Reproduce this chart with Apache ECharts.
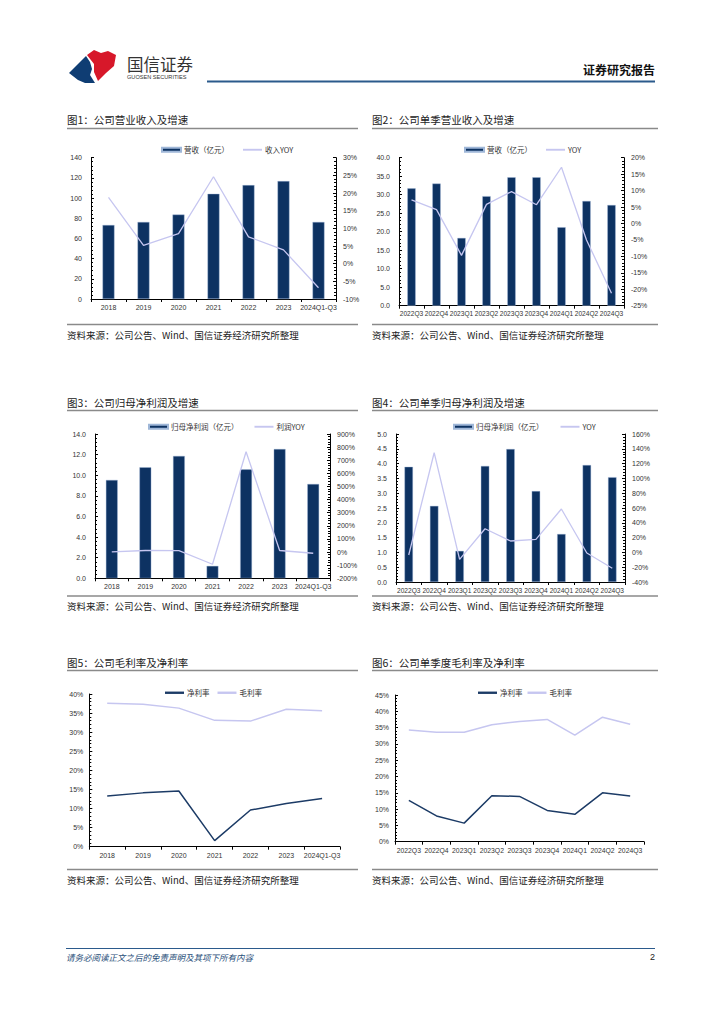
<!DOCTYPE html>
<html><head><meta charset="utf-8">
<script src="https://cdn.jsdelivr.net/npm/echarts@6/dist/echarts.min.js"></script>
<style>html,body{margin:0;padding:0;background:#fff;}#c{width:724px;height:1024px;}</style>
</head><body><div id="c"></div>
<script>
// ---------- data ----------
const yearCats = ['2018','2019','2020','2021','2022','2023','2024Q1-Q3'];
const quarterCats = ['2022Q3','2022Q4','2023Q1','2023Q2','2023Q3','2023Q4','2024Q1','2024Q2','2024Q3'];

const revenueAnnual = [73.3, 76.3, 83.6, 104.2, 112.8, 116.8, 76.3];
const revenueAnnualYoy = [18.8, 5.2, 8.5, 24.6, 7.6, 3.9, -6.8];

const revenueQuarter = [31.7, 33.0, 18.3, 29.6, 34.7, 34.7, 21.2, 28.3, 27.2];
const revenueQuarterYoy = [7.2, 4.2, -9.7, 5.8, 9.7, 5.7, 17.1, -5.0, -21.2];

const profitAnnual = [9.54, 10.77, 11.87, 1.2, 10.57, 12.54, 9.15];
const profitAnnualYoy = [1, 12, 11, -93, 765, 12, -9];

const profitQuarter = [3.89, 2.57, 1.05, 3.92, 4.49, 3.07, 1.62, 3.95, 3.54];
const profitQuarterYoy = [-3.5, 134.7, -9.4, 32.0, 15.4, 17.7, 58.6, -0.8, -21.5];

const grossMarginAnnual = [37.6, 37.3, 36.3, 33.1, 32.9, 36.0, 35.6];
const netMarginAnnual = [13.3, 14.1, 14.6, 1.6, 9.6, 11.3, 12.6];

const grossMarginQuarter = [34.3, 33.6, 33.6, 35.9, 36.9, 37.5, 32.7, 38.2, 36.0];
const netMarginQuarter = [12.7, 7.9, 5.7, 14.1, 13.9, 9.6, 8.4, 15.0, 14.0];

// ---------- style ----------
const NAVY = '#0d3262';
const LAV = '#c6c6f0';
const NETLINE = '#1c3b66';
const NUMFONT = 'Liberation Sans, Arial, Noto Sans CJK SC, sans-serif';
const CJK = 'Noto Sans CJK SC, sans-serif';
const W = 724, H = 1024;

function grid(l, r, t, b) { return { left: l, top: t, width: r - l, height: b - t, containLabel: false }; }
const grids = [
  grid(91, 336, 157.7, 299),
  grid(399, 624, 157.7, 305.7),
  grid(95, 330, 434, 578.3),
  grid(396, 625, 434, 582),
  grid(89.3, 340, 694, 846.7),
  grid(395, 644, 695, 841.7)
];

function xAxis(gi, data, fs) {
  return {
    type: 'category', gridIndex: gi, data: data, boundaryGap: true,
    axisLine: { show: true, lineStyle: { color: '#000', width: 1 } },
    axisTick: { show: true, length: 3, lineStyle: { color: '#000' } },
    axisLabel: { interval: 0, fontSize: fs, margin: 5, color: '#333', fontFamily: NUMFONT, hideOverlap: false },
    splitLine: { show: false }
  };
}
function yAxis(gi, pos, min, max, interval, fmt, margin) {
  return {
    type: 'value', gridIndex: gi, position: pos, min: min, max: max, interval: interval,
    axisLine: { show: true, lineStyle: { color: '#000', width: 1 } },
    axisTick: { show: true, inside: true, length: 3, lineStyle: { color: '#000' } },
    minorTick: { show: true, splitNumber: 5, length: 2, lineStyle: { color: '#000' } },
    axisLabel: { fontSize: 7, color: '#333', margin: margin, fontFamily: NUMFONT, formatter: fmt },
    splitLine: { show: false }
  };
}
const pct = v => v + '%';
const one = v => v.toFixed(1);

const xAxes = [
  xAxis(0, yearCats, 7), xAxis(1, quarterCats, 6.6), xAxis(2, yearCats, 7),
  xAxis(3, quarterCats, 6.6), xAxis(4, yearCats, 7), xAxis(5, quarterCats, 6.8)
];
const yAxes = [
  yAxis(0, 'left', 0, 140, 20, v => v, 9),        //0
  yAxis(0, 'right', -10, 30, 5, pct, 7),          //1
  yAxis(1, 'left', 0, 40, 5, one, 9),             //2
  yAxis(1, 'right', -25, 20, 5, pct, 7),          //3
  yAxis(2, 'left', 0, 14, 2, one, 9),             //4
  yAxis(2, 'right', -200, 900, 100, pct, 7),      //5
  yAxis(3, 'left', 0, 5, 0.5, one, 9),            //6
  yAxis(3, 'right', -40, 160, 20, pct, 7),        //7
  yAxis(4, 'left', 0, 40, 5, pct, 6),             //8
  yAxis(5, 'left', 0, 45, 5, pct, 6)              //9
];

function bar(name, xi, yi, data, bw) {
  return { type: 'bar', name: name, xAxisIndex: xi, yAxisIndex: yi, data: data, barWidth: bw,
    itemStyle: { color: NAVY, borderColor: '#9fb7d8', borderWidth: 0.4 }, z: 2 };
}
function line(name, xi, yi, data, color, w) {
  return { type: 'line', name: name, xAxisIndex: xi, yAxisIndex: yi, data: data, symbol: 'none', showSymbol: false,
    lineStyle: { color: color, width: w }, itemStyle: { color: color }, z: 3 };
}

const series = [
  bar('营收（亿元）', 0, 0, revenueAnnual, '34%'),
  line('收入YOY', 0, 1, revenueAnnualYoy, LAV, 1.3),
  bar('营收（亿元） ', 1, 2, revenueQuarter, '33%'),
  line('YOY', 1, 3, revenueQuarterYoy, LAV, 1.3),
  bar('归母净利润（亿元）', 2, 4, profitAnnual, '35%'),
  line('利润YOY', 2, 5, profitAnnualYoy, LAV, 1.3),
  bar('归母净利润（亿元） ', 3, 6, profitQuarter, '33%'),
  line('YOY ', 3, 7, profitQuarterYoy, LAV, 1.3),
  line('净利率', 4, 8, netMarginAnnual, NETLINE, 1.5),
  line('毛利率', 4, 8, grossMarginAnnual, LAV, 1.5),
  line('净利率 ', 5, 9, netMarginQuarter, NETLINE, 1.5),
  line('毛利率 ', 5, 9, grossMarginQuarter, LAV, 1.5)
];

const LINEICON = 'path://M0,0H40V4H0Z';
const LINEICON2 = 'path://M0,0H40V5H0Z';
function legend(items, left, top, gap) {
  return {
    data: items, left: left, top: top, itemWidth: 19, itemHeight: 4, itemGap: gap,
    textStyle: { fontSize: 7.5, color: '#333', fontFamily: CJK, padding: [0, 0, 0, -2] },
    selectedMode: false, formatter: n => n.trim()
  };
}
const legends = [
  legend([{ name: '营收（亿元）', icon: 'rect' }, { name: '收入YOY', icon: LINEICON }], 156, 141, 14),
  legend([{ name: '营收（亿元） ', icon: 'rect' }, { name: 'YOY', icon: LINEICON }], 459, 141, 14),
  legend([{ name: '归母净利润（亿元）', icon: 'rect' }, { name: '利润YOY', icon: LINEICON }], 143, 418, 16),
  legend([{ name: '归母净利润（亿元） ', icon: 'rect' }, { name: 'YOY ', icon: LINEICON }], 448, 418, 17),
  legend([{ name: '净利率', icon: LINEICON2 }, { name: '毛利率', icon: LINEICON2 }], 160, 684, 8),
  legend([{ name: '净利率 ', icon: LINEICON2 }, { name: '毛利率 ', icon: LINEICON2 }], 473, 684, 5)
];

// ---------- page graphics ----------
const g = [];
function txt(x, y, s, size, opts) {
  opts = opts || {};
  g.push({ type: 'text', x: x, y: y, silent: true, style: {
    text: s, fontSize: size, fontFamily: opts.font || CJK, fontWeight: opts.weight || 'normal',
    fontStyle: opts.style || 'normal', fill: opts.color || '#222',
    textAlign: opts.align || 'left', textVerticalAlign: 'middle' } });
}
function ln(x1, y1, x2, y2, color, w) {
  g.push({ type: 'line', silent: true, shape: { x1: x1, y1: y1, x2: x2, y2: y2 }, style: { stroke: color, lineWidth: w } });
}
// header logo
g.push({ type: 'polygon', silent: true, shape: { points: [[69,73],[86,56],[90,62],[92,69],[90,75],[95,83],[85,83],[78,80]] }, style: { fill: '#0f3d73' } });
g.push({ type: 'polygon', silent: true, shape: { points: [[87,55],[94,50],[101,53],[108,51],[116,55],[114,66],[106,73],[98,81],[94,72],[94,64]] }, style: { fill: '#d7182a' } });
txt(127, 64, '国信证券', 16.5, { color: '#333' });
txt(127, 77, 'GUOSEN SECURITIES', 5.6, { font: NUMFONT, color: '#333' });
txt(655, 69, '证券研究报告', 12, { weight: 'bold', align: 'right', color: '#111' });
ln(207, 81.5, 655, 81.5, '#2b5a8c', 2);

// panels: titles / underline / source
const panels = [
  { x1: 67, x2: 358, ty: 119, uy: 128.5, sy: 324.5, st: 335, t: '图1：公司营业收入及增速' },
  { x1: 372, x2: 658, ty: 119, uy: 128.5, sy: 324.5, st: 335, t: '图2：公司单季营业收入及增速' },
  { x1: 67, x2: 358, ty: 402, uy: 410.5, sy: 596, st: 606, t: '图3：公司归母净利润及增速' },
  { x1: 372, x2: 658, ty: 402, uy: 410.5, sy: 596, st: 606, t: '图4：公司单季归母净利润及增速' },
  { x1: 67, x2: 358, ty: 662, uy: 670.5, sy: 869.5, st: 880, t: '图5：公司毛利率及净利率' },
  { x1: 372, x2: 658, ty: 662, uy: 670.5, sy: 869.5, st: 880, t: '图6：公司单季度毛利率及净利率' }
];
panels.forEach(p => {
  txt(p.x1, p.ty, p.t, 10.5, { color: '#222' });
  ln(p.x1, p.uy, p.x2, p.uy, '#8a8a8a', 1.6);
  ln(p.x1, p.sy, p.x2, p.sy, '#8a8a8a', 1.6);
  txt(p.x1, p.st, '资料来源：公司公告、Wind、国信证券经济研究所整理', 9.5, { color: '#222' });
});
// footer
ln(66, 948.5, 655, 948.5, '#2b5a8c', 1);
txt(66, 957, '请务必阅读正文之后的免责声明及其项下所有内容', 8.5, { style: 'italic', color: '#1f4e79' });
txt(655, 957, '2', 9, { font: NUMFONT, align: 'right', color: '#222' });

const chart = echarts.init(document.getElementById('c'), null, { renderer: 'svg', width: W, height: H });
chart.setOption({
  animation: false,
  backgroundColor: '#fff',
  grid: grids, xAxis: xAxes, yAxis: yAxes, series: series, legend: legends, graphic: g
});
</script></body></html>
